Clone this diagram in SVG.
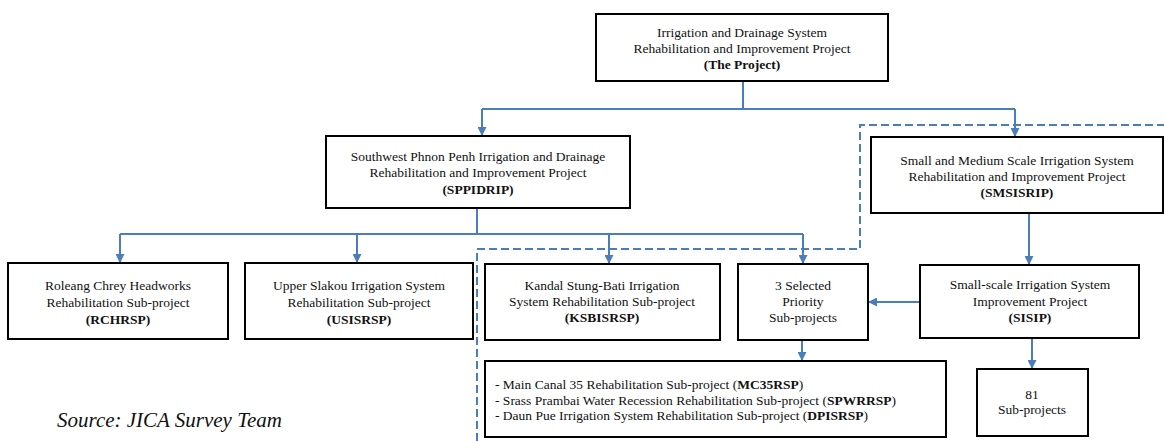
<svg xmlns="http://www.w3.org/2000/svg" width="1164" height="441" viewBox="0 0 1164 441">
  <style>
    .box { fill: #ffffff; stroke: #000000; stroke-width: 2; }
    .t { font-family: "Liberation Serif", "Times New Roman", serif; font-size: 13.5px; fill: #111111; text-anchor: middle; }
    .tl { font-family: "Liberation Serif", "Times New Roman", serif; font-size: 13.5px; fill: #111111; }
    .b { font-weight: bold; }
    .link { fill: none; stroke: #4a7ebb; stroke-width: 2; }
    .arrow { fill: none; stroke: #4a7ebb; stroke-width: 2; marker-end: url(#head); }
    .dash { fill: none; stroke: #4a7ebb; stroke-width: 2; stroke-dasharray: 8 4; }
    .src { font-family: "Liberation Serif", "Times New Roman", serif; font-size: 21px; font-style: italic; fill: #111111; }
  </style>
  <defs>
    <marker id="head" viewBox="0 0 10 10" refX="10" refY="5" markerUnits="userSpaceOnUse" markerWidth="9" markerHeight="9" orient="auto">
      <path d="M0,0 L10,5 L0,10 z" fill="#4a7ebb"/>
    </marker>
  </defs>

  <!-- dashed boundary around the SMSISRIP branch -->
  <path class="dash" d="M477,441 V249 H860 V125 H1164"/>

  <!-- connectors -->
  <g id="connectors">
    <path class="link" d="M743,81 V109"/>
    <path class="link" d="M482,109 H1015"/>
    <path class="arrow" d="M482,109 V136"/>
    <path class="arrow" d="M1015,109 V137"/>
    <path class="link" d="M477,208 V234"/>
    <path class="link" d="M120,234 H803"/>
    <path class="arrow" d="M120,234 V263"/>
    <path class="arrow" d="M357,234 V263"/>
    <path class="arrow" d="M609,234 V264"/>
    <path class="arrow" d="M803,234 V264"/>
    <path class="arrow" d="M1029,213 V265"/>
    <path class="arrow" d="M920,302 H868"/>
    <path class="arrow" d="M802,340 V361"/>
    <path class="arrow" d="M1032,338 V369"/>
  </g>

  <g id="project">
    <rect class="box" x="596" y="14" width="292" height="67"/>
    <text class="t" x="742" y="37">Irrigation and Drainage System</text>
    <text class="t" x="742" y="53">Rehabilitation and Improvement Project</text>
    <text class="t b" x="742" y="69">(The Project)</text>
  </g>

  <g id="sppidrip">
    <rect class="box" x="326" y="136" width="304" height="72"/>
    <text class="t" x="478" y="161">Southwest Phnon Penh Irrigation and Drainage</text>
    <text class="t" x="478" y="177">Rehabilitation and Improvement Project</text>
    <text class="t b" x="478" y="194">(SPPIDRIP)</text>
  </g>

  <g id="smsisrip">
    <rect class="box" x="871" y="137" width="292" height="76"/>
    <text class="t" x="1017" y="165">Small and Medium Scale Irrigation System</text>
    <text class="t" x="1017" y="181">Rehabilitation and Improvement Project</text>
    <text class="t b" x="1017" y="197">(SMSISRIP)</text>
  </g>

  <g id="rchrsp">
    <rect class="box" x="8" y="263" width="220" height="76"/>
    <text class="t" x="118" y="290">Roleang Chrey Headworks</text>
    <text class="t" x="118" y="307">Rehabilitation Sub-project</text>
    <text class="t b" x="118" y="324">(RCHRSP)</text>
  </g>

  <g id="usisrsp">
    <rect class="box" x="245" y="263" width="228" height="76"/>
    <text class="t" x="359" y="290">Upper Slakou Irrigation System</text>
    <text class="t" x="359" y="307">Rehabilitation Sub-project</text>
    <text class="t b" x="359" y="324">(USISRSP)</text>
  </g>

  <g id="ksbisrsp">
    <rect class="box" x="485" y="264" width="235" height="76"/>
    <text class="t" x="602" y="290">Kandal Stung-Bati Irrigation</text>
    <text class="t" x="602" y="306">System Rehabilitation Sub-project</text>
    <text class="t b" x="602" y="322">(KSBISRSP)</text>
  </g>

  <g id="selected">
    <rect class="box" x="738" y="264" width="130" height="76"/>
    <text class="t" x="803" y="290">3 Selected</text>
    <text class="t" x="803" y="306">Priority</text>
    <text class="t" x="803" y="322">Sub-projects</text>
  </g>

  <g id="sisip">
    <rect class="box" x="920" y="265" width="219" height="73"/>
    <text class="t" x="1030" y="289">Small-scale Irrigation System</text>
    <text class="t" x="1030" y="306">Improvement Project</text>
    <text class="t b" x="1030" y="322">(SISIP)</text>
  </g>

  <g id="priority-list">
    <rect class="box" x="485" y="361" width="461" height="76"/>
    <text class="tl" x="495" y="389">- Main Canal 35 Rehabilitation Sub-project (<tspan class="b">MC35RSP</tspan>)</text>
    <text class="tl" x="495" y="405">-  Srass Prambai Water Recession Rehabilitation Sub-project (<tspan class="b">SPWRRSP</tspan>)</text>
    <text class="tl" x="495" y="420">-  Daun Pue Irrigation System Rehabilitation Sub-project (<tspan class="b">DPISRSP</tspan>)</text>
  </g>

  <g id="sub81">
    <rect class="box" x="977" y="369" width="111" height="67"/>
    <text class="t" x="1032" y="399">81</text>
    <text class="t" x="1032" y="414">Sub-projects</text>
  </g>

  <text class="src" x="57" y="427">Source: JICA Survey Team</text>
</svg>
